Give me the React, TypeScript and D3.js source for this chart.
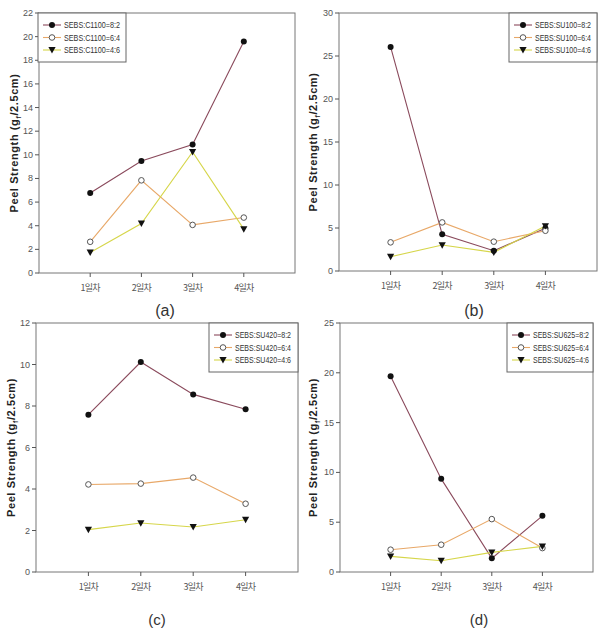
import React from "react";
import * as d3 from "d3";

const categories = ["1일차", "2일차", "3일차", "4일차"];
const seriesKeys = ["8:2", "6:4", "4:6"];

const panelLabels = ["(a)", "(b)", "(c)", "(d)"];
const panelMaterials = ["C1100", "SU100", "SU420", "SU625"];
const panelYMax = [22, 30, 12, 25];
const panelYStep = [2, 5, 2, 5];

const aValues = [
  [6.77, 9.47, 10.87, 19.58],
  [2.64, 7.84, 4.07, 4.69],
  [1.74, 4.19, 10.25, 3.71],
];
const bValues = [
  [26.05, 4.26, 2.36, 4.96],
  [3.33, 5.65, 3.41, 4.68],
  [1.66, 3.02, 2.17, 5.23],
];
const cValues = [
  [7.58, 10.12, 8.56, 7.84],
  [4.22, 4.26, 4.55, 3.29],
  [2.04, 2.36, 2.17, 2.52],
];
const dValues = [
  [19.66, 9.35, 1.37, 5.64],
  [2.24, 2.74, 5.31, 2.4],
  [1.57, 1.13, 1.97, 2.57],
];
const panelValues = [aValues, bValues, cValues, dValues];

const lineColors = ["#8a4a5c", "#e8a868", "#d6d64a"];

type Geo = { l: number; t: number; r: number; b: number; legX: number; legR: number; lx: number; labX: number; labY: number; labSize: number };
const geos: Geo[] = [
  { l: 39, t: 13, r: 295, b: 273, legX: 38, legR: 126, lx: 18, labX: 165, labY: 316, labSize: 16 },
  { l: 339, t: 13, r: 597, b: 271, legX: 509, legR: 597, lx: 317, labX: 474, labY: 316, labSize: 16 },
  { l: 36, t: 323, r: 298, b: 572, legX: 209, legR: 298, lx: 15, labX: 157, labY: 625, labSize: 15 },
  { l: 340, t: 323, r: 593, b: 572, legX: 507, legR: 593, lx: 317, labX: 479, labY: 625, labSize: 15 },
];

function Marker({ kind, x, y }: { kind: number; x: number; y: number }) {
  if (kind === 0) return <circle cx={x} cy={y} r={3} fill="#111" />;
  if (kind === 1) return <circle cx={x} cy={y} r={2.8} fill="#fff" stroke="#555" strokeWidth={1} />;
  const s = 3.6;
  return <path d={`M${x - s},${y - s * 0.8}L${x + s},${y - s * 0.8}L${x},${y + s}Z`} fill="#111" />;
}

function Panel({ idx }: { idx: number }) {
  const g = geos[idx];
  const ymax = panelYMax[idx];
  const y = d3.scaleLinear().domain([0, ymax]).range([g.b, g.t]);
  const x = d3.scaleLinear().domain([0, 5]).range([g.l, g.r]);
  const yTicks = d3.range(0, ymax + 0.001, panelYStep[idx]);
  const vals = panelValues[idx];
  const line = d3
    .line<number>()
    .x((_, i) => x(i + 1))
    .y((v) => y(v));
  const legTop = g.t;
  const legH = 49;
  const cy = (g.t + g.b) / 2;
  return (
    <g>
      <rect x={g.l} y={g.t} width={g.r - g.l} height={g.b - g.t} fill="none" stroke="#777" strokeWidth={1} />
      {yTicks.map((t) => (
        <g key={t}>
          <line x1={g.l - 4} x2={g.l} y1={y(t)} y2={y(t)} stroke="#555" />
          <text x={g.l - 6} y={y(t) + 3} fontSize={9} fill="#555" textAnchor="end" fontFamily="Liberation Sans, Arial, sans-serif">
            {t}
          </text>
        </g>
      ))}
      {categories.map((c, i) => (
        <g key={c}>
          <line x1={x(i + 1)} x2={x(i + 1)} y1={g.b} y2={g.b + 4} stroke="#555" />
          <text x={x(i + 1)} y={g.b + 18} fontSize={9} fill="#555" textAnchor="middle" fontFamily="Noto Sans CJK KR, sans-serif" letterSpacing={-0.8}>
            {c}
          </text>
        </g>
      ))}
      <text
        transform={`translate(${g.lx},${cy}) rotate(-90)`}
        textAnchor="middle"
        fontSize={11}
        fontWeight="bold"
        fill="#222"
        letterSpacing={0.6}
        fontFamily="Liberation Sans, Arial, sans-serif"
      >
        Peel Strength (g<tspan fontSize={7} dy={3}>f</tspan>
        <tspan dy={-3}>/2.5cm)</tspan>
      </text>
      {vals.map((s, si) => (
        <path key={si} d={line(s) || ""} fill="none" stroke={lineColors[si]} strokeWidth={1.1} />
      ))}
      {vals.map((s, si) =>
        s.map((v, i) => <Marker key={`${si}-${i}`} kind={si} x={x(i + 1)} y={y(v)} />)
      )}
      <rect x={g.legX} y={legTop} width={g.legR - g.legX} height={legH} fill="#fff" stroke="#666" strokeWidth={1} />
      {seriesKeys.map((k, si) => {
        const ly = legTop + 12 + si * 12.5;
        return (
          <g key={k}>
            <line x1={g.legX + 5} x2={g.legX + 23} y1={ly} y2={ly} stroke={lineColors[si]} strokeWidth={1.1} />
            <Marker kind={si} x={g.legX + 14} y={ly} />
            <text
              x={g.legX + 26}
              y={ly + 3}
              fontSize={8.5}
              fill="#333"
              textLength={56}
              lengthAdjust="spacingAndGlyphs"
              fontFamily="Liberation Sans Narrow, Arial Narrow, sans-serif"
            >
              {`SEBS:${panelMaterials[idx]}=${k}`}
            </text>
          </g>
        );
      })}
      <text x={g.labX} y={g.labY} fontSize={g.labSize} fill="#333" textAnchor="middle" fontFamily="Liberation Sans, Arial, sans-serif">
        {panelLabels[idx]}
      </text>
    </g>
  );
}

export default function App() {
  return (
    <svg width={610} height={635} style={{ position: "absolute", left: 0, top: 0, background: "#fff" }}>
      <rect x={0} y={0} width={610} height={635} fill="#fff" />
      {[0, 1, 2, 3].map((i) => (
        <Panel key={i} idx={i} />
      ))}
    </svg>
  );
}
